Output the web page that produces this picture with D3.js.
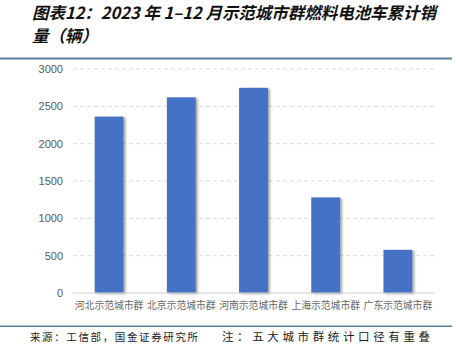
<!DOCTYPE html>
<html>
<head>
<meta charset="utf-8">
<script src="https://cdn.jsdelivr.net/npm/d3@7"></script>
<style>
  body { margin: 0; background: #fff; }
  svg { display: block; }
</style>
</head>
<body>
<svg id="chart" width="456" height="360"></svg>
<script>
// data
const categories = ['河北示范城市群', '北京示范城市群', '河南示范城市群', '上海示范城市群', '广东示范城市群'];
const sales = [2362, 2620, 2748, 1280, 578];
const yTicks = [0, 500, 1000, 1500, 2000, 2500, 3000];

const svg = d3.select('#chart');
const W = 456, H = 360;
const margin = { top: 69, right: 22, bottom: 67, left: 73 };
const plotW = W - margin.left - margin.right;
const plotH = H - margin.top - margin.bottom;
const cjk = '"Noto Sans CJK SC", "Noto Sans", sans-serif';

// drop shadow for bars
const defs = svg.append('defs');
const f = defs.append('filter').attr('id', 'shadow')
    .attr('x', '-20%').attr('y', '-5%').attr('width', '150%').attr('height', '115%');
f.append('feDropShadow').attr('dx', 2).attr('dy', 1).attr('stdDeviation', 1.2)
    .attr('flood-color', '#000').attr('flood-opacity', 0.35);

// title
const title = svg.append('text')
    .attr('font-family', cjk).attr('font-size', 16.5).attr('font-weight', 'bold')
    .attr('font-style', 'italic').attr('fill', '#111');
title.append('tspan').attr('x', 32).attr('y', 19).attr('textLength', 404).attr('lengthAdjust', 'spacing')
    .text('图表12：2023 年 1–12 月示范城市群燃料电池车累计销');
title.append('tspan').attr('x', 32).attr('y', 42).text('量（辆）');

svg.append('rect').attr('x', 0).attr('y', 57.5).attr('width', 452).attr('height', 2).attr('fill', '#5d7f9c');

const g = svg.append('g').attr('transform', `translate(${margin.left},${margin.top})`);

const x = d3.scaleBand().domain(categories).range([0, plotW]).paddingInner(0.6).paddingOuter(0.3);
const y = d3.scaleLinear().domain([0, 3000]).range([plotH, 0]);

// gridlines
g.append('g').selectAll('line').data(yTicks.filter(d => d > 0)).join('line')
    .attr('x1', 0).attr('x2', plotW)
    .attr('y1', d => y(d)).attr('y2', d => y(d))
    .attr('stroke', '#d9d9d9').attr('stroke-width', 1).attr('stroke-dasharray', '4,3');

// y labels
g.append('g').selectAll('text').data(yTicks).join('text')
    .attr('x', -10).attr('y', d => y(d)).attr('dy', '0.35em')
    .attr('text-anchor', 'end').attr('font-family', '"Liberation Sans", Arial, sans-serif')
    .attr('font-size', 11).attr('fill', '#595959').text(d => d);

// bars
g.append('g').selectAll('rect').data(sales).join('rect')
    .attr('x', (d, i) => x(categories[i]))
    .attr('y', d => y(d))
    .attr('width', x.bandwidth())
    .attr('height', d => plotH - y(d))
    .attr('fill', '#4472c4')
    .attr('filter', 'url(#shadow)');

// baseline
g.append('line').attr('x1', 0).attr('x2', plotW).attr('y1', plotH).attr('y2', plotH)
    .attr('stroke', '#d0d0d0').attr('stroke-width', 1);

// x labels
g.append('g').selectAll('text').data(categories).join('text')
    .attr('x', d => x(d) + x.bandwidth() / 2).attr('y', plotH + 16)
    .attr('text-anchor', 'middle').attr('font-family', cjk)
    .attr('font-size', 9.8).attr('fill', '#666').text(d => d);

// footer
svg.append('rect').attr('x', 0).attr('y', 325.5).attr('width', 452).attr('height', 1.5).attr('fill', '#5d7f9c');
svg.append('text').attr('x', 30).attr('y', 341)
    .attr('font-family', cjk).attr('font-size', 10.5).attr('fill', '#222')
    .attr('textLength', 168).attr('lengthAdjust', 'spacing')
    .text('来源：工信部，国金证券研究所');
svg.append('text').attr('x', 222).attr('y', 341)
    .attr('font-family', cjk).attr('font-size', 11.5).attr('fill', '#222')
    .attr('textLength', 208).attr('lengthAdjust', 'spacing')
    .text('注：五大城市群统计口径有重叠');
</script>
</body>
</html>
